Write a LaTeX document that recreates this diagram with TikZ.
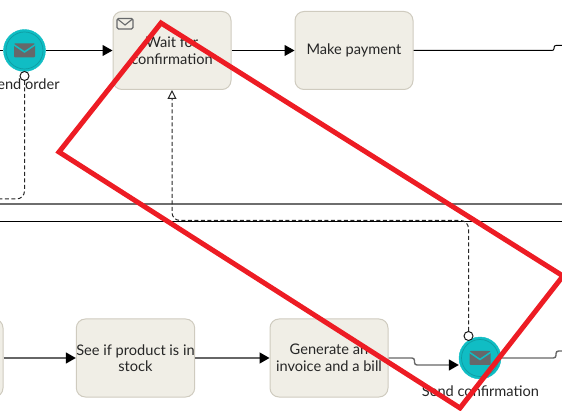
\documentclass[tikz,border=0pt]{standalone}
\usepackage{fontspec}
\setmainfont{Lato}
\usetikzlibrary{arrows.meta,positioning,calc}
\definecolor{taskfill}{HTML}{F0EEE6}
\definecolor{taskline}{HTML}{CFCBBF}
\definecolor{eventfill}{HTML}{10BDC4}
\definecolor{eventring}{HTML}{0E9DA3}
\definecolor{mailgray}{HTML}{66686A}
\definecolor{markred}{HTML}{ED1C24}
\definecolor{lanegray}{HTML}{6E6E6E}
\tikzset{
    task/.style={draw=taskline, fill=taskfill, rounded corners=9pt, line width=1pt,
        minimum width=118pt, minimum height=78pt, inner sep=0pt, align=center,
        text=black!85, font=\fontsize{14.6}{16.5}\selectfont},
    event/.style={circle, fill=eventfill, draw=eventfill, minimum size=42pt, inner sep=0pt},
    eventlabel/.style={text=black!85, font=\fontsize{14.6}{16.5}\selectfont, inner sep=0pt},
    flow/.style={-{Triangle[length=10pt,width=11pt,black]}, line width=1pt, black},
    flowgray/.style={-{Triangle[length=10pt,width=11pt,black]}, line width=1.4pt, black!60},
    msgflow/.style={dashed, dash pattern=on 4pt off 2.5pt, line width=1pt, black!85, rounded corners=8pt},
    msgdot/.style={circle, draw=black!90, fill=white, line width=1pt, minimum size=9pt, inner sep=0pt},
    closedmail/.pic={
        \fill[mailgray, rounded corners=1pt] (-10.5,-7) rectangle (10.5,7);
        \draw[eventfill, line width=1.5pt] (-11,-6) -- (0,1.5) -- (11,-6);
    }
}
\begin{document}
\begin{tikzpicture}[x=1pt,y=-1pt]
    \clip (0,0) rectangle (562,411);
    \useasboundingbox (0,0) rectangle (562,411);

    % Lanes
    \draw[lanegray, line width=2pt] (0,204.5) -- (562,204.5);
    \draw[black, line width=1pt] (0,222) -- (562,222);

    % Tasks
    \node[task] (wait) at (172,50.5) {Wait for\\confirmation};
    \node[task] (makepay) at (354,50.5) {Make payment};
    \node[task] (prevtask) at (-56,358) {};
    \node[task] (checkstock) at (135.5,358) {See if product is in\\stock};
    \node[task] (invoice) at (329,358) {Generate an\\invoice and a bill};

    % Receive marker
    \draw[mailgray, line width=1.1pt, rounded corners=1.5pt] (117,18.5) rectangle (133,29);
    \draw[mailgray, line width=1.1pt] (117.5,19) -- (125,25) -- (132.5,19);

    % Events
    \node[event] (sendorder) at (24.5,50.5) {};
    \node[event] (sendconf) at (480,358) {};
    \draw[eventring, line width=0.7pt] (sendorder) circle (18.5);
    \draw[eventring, line width=0.7pt] (sendconf) circle (18.5);
    \pic at (sendorder) {closedmail};
    \pic at (sendconf) {closedmail};
    \node[eventlabel] (orderlabel) at (24.5,84) {Send order};
    \node[eventlabel] (conflabel) at (480.5,391.5) {Send confirmation};

    % Free ends
    \coordinate (orderin) at (0,50.5);
    \coordinate (orderout) at (0,199);
    \coordinate (payjog) at (554,45.5);
    \coordinate (payout) at (562,45.5);
    \coordinate (invoicejog) at (414.5,365);
    \coordinate (confjog) at (556,351);
    \coordinate (confout) at (562,351);
    \coordinate (lanebend) at (172,220.5);

    % Sequence flows
    \draw[line width=1pt] (orderin) -- (sendorder.west);
    \draw[flow] (sendorder) -- (wait);
    \draw[flow] (wait) -- (makepay);
    \draw[line width=1pt, rounded corners=2pt] (makepay.east) -| (payjog) -- (payout);
    \draw[flowgray] (prevtask) -- (checkstock);
    \draw[flowgray] (checkstock) -- (invoice);
    \draw[flowgray, rounded corners=2.5pt] (invoice.east) -| (invoicejog) -- (sendconf.west |- invoicejog);
    \draw[line width=1.4pt, black!60, rounded corners=2.5pt] (sendconf.east) -| (confjog) -- (confout);

    % Message flows
    \node[msgdot] (orderdot) at (24.5,76) {};
    \node[msgdot] (confdot) at (468.5,336) {};
    \draw[msgflow] (orderdot.south) |- (orderout);
    \draw[msgflow, -{Triangle[open,length=9pt,width=9pt]}] (confdot.north) |- (lanebend) -- (wait.south);

    % Red mark
    \coordinate (marktop) at (161,23);
    \coordinate (markleft) at (59,152);
    \coordinate (markbottom) at (460,408);
    \coordinate (markright) at (563,276);
    \draw[markred, line width=5pt, line join=miter] (marktop) -- (markleft) -- (markbottom) -- (markright) -- cycle;
\end{tikzpicture}
\end{document}
